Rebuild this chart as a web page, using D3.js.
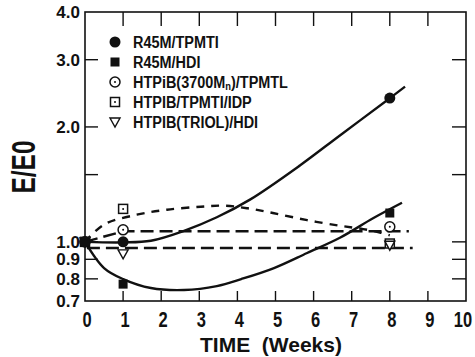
<!DOCTYPE html>
<html>
<head>
<meta charset="utf-8">
<script src="https://cdn.jsdelivr.net/npm/d3@7/dist/d3.min.js"></script>
<style>
  body { margin: 0; background: #fff; }
  svg { display: block; }
  text { font-family: "Liberation Sans", Arial, sans-serif; font-weight: bold; fill: #111; }
</style>
</head>
<body>
<div id="chart"></div>
<script>
// measured points (weeks, E/E0)
const weeks = [0, 1, 8];
const r45mTpmti = [1.0, 1.0, 2.38];
const r45mHdi = [1.0, 0.775, 1.19];
const htpib3700 = [1.0, 1.075, 1.095];
const htpibIdp = [1.0, 1.22, 0.99];
const htpibTriol = [1.0, 0.93, 0.98];

// drawn curves
const curveTpmti = [[0, 1.0], [1, 0.997], [1.73, 1.007], [2.6, 1.069], [3.46, 1.16], [4.33, 1.29],
  [5.64, 1.585], [6.69, 1.9], [8.0, 2.378], [8.4, 2.55]];
const curveHdi = [[0, 1.0], [0.5, 0.854], [1.0, 0.799], [1.73, 0.757], [2.6, 0.748], [3.46, 0.766],
  [4.1, 0.799], [4.96, 0.854], [5.83, 0.935], [6.69, 1.025], [7.56, 1.153], [8.32, 1.266]];
const curveIdp = [[0, 1.0], [0.5, 1.11], [1.36, 1.178], [2.15, 1.214], [3.04, 1.236], [3.65, 1.244],
  [4.25, 1.225], [4.93, 1.19], [5.83, 1.14], [6.69, 1.102], [7.3, 1.08], [7.74, 1.058], [8.0, 1.04]];
const line3700 = [[0, 1.0], [1, 1.066], [8.5, 1.066]];
const lineTriol = [[0.05, 0.964], [8.6, 0.964]];

const xTicks = [0, 1, 2, 3, 4, 5, 6, 7, 8, 9, 10];
const yTicks = [0.7, 0.8, 0.9, 1.0, 1.5, 2.0, 3.0, 4.0];
const yLabels = ['0.7', '0.8', '0.9', '1.0', '', '2.0', '3.0', '4.0'];

const W = 475, H = 357;
const frame = { left: 85, right: 466, top: 12, bottom: 301 };

const svg = d3.select('#chart').append('svg').attr('width', W).attr('height', H);

const x = d3.scaleLinear().domain([0, 10]).range([frame.left, frame.right]);
const y = d3.scaleLog().domain([0.7, 4.0]).range([frame.bottom, frame.top]);

// text squeezed horizontally to imitate the condensed face of the original
function label(g, tx, ty, str, size, anchor, sx, rot) {
  return g.append('text')
    .attr('transform', `translate(${tx},${ty})` + (rot ? ` rotate(${rot})` : '') + ` scale(${sx},1)`)
    .attr('text-anchor', anchor)
    .attr('font-size', size)
    .text(str);
}

// frame
svg.append('rect')
  .attr('x', frame.left).attr('y', frame.top)
  .attr('width', frame.right - frame.left).attr('height', frame.bottom - frame.top)
  .attr('fill', 'none').attr('stroke', '#111').attr('stroke-width', 1.6);

// inward ticks on all four sides
const ticks = svg.append('g').attr('stroke', '#111').attr('stroke-width', 1.4);
xTicks.filter(d => d > 0 && d < 10).forEach(d => {
  ticks.append('line').attr('x1', x(d)).attr('x2', x(d)).attr('y1', frame.top).attr('y2', frame.top + 14);
  ticks.append('line').attr('x1', x(d)).attr('x2', x(d)).attr('y1', frame.bottom).attr('y2', frame.bottom - 10);
});
yTicks.filter(d => d > 0.7 && d < 4.0).forEach(d => {
  ticks.append('line').attr('x1', frame.left).attr('x2', frame.left + 13).attr('y1', y(d)).attr('y2', y(d));
  ticks.append('line').attr('x1', frame.right).attr('x2', frame.right - 14).attr('y1', y(d)).attr('y2', y(d));
});

// tick labels
const yl = svg.append('g');
yTicks.forEach((d, i) => {
  if (yLabels[i]) label(yl, 80, y(d) + 6, yLabels[i], 17, 'end', 1.0);
});
const xl = svg.append('g');
xTicks.forEach(d => {
  label(xl, d === 10 ? x(d) - 3 : x(d) + 2, 327, String(d), 22, 'middle', 0.75);
});

// axis titles
svg.append('text')
  .attr('x', 271).attr('y', 352)
  .attr('text-anchor', 'middle')
  .attr('font-size', 21)
  .style('white-space', 'pre')
  .text('TIME  (Weeks)');

label(svg, 35, 167, 'E/E0', 34, 'middle', 0.72, -90);

// curves
const line = d3.line().x(d => x(d[0])).y(d => y(d[1]));
const smooth = d3.line().x(d => x(d[0])).y(d => y(d[1])).curve(d3.curveCatmullRom.alpha(0.5));

const curves = svg.append('g').attr('fill', 'none').attr('stroke', '#111').attr('stroke-width', 2.4);
curves.append('path').attr('d', smooth(curveTpmti));
curves.append('path').attr('d', smooth(curveHdi));
curves.append('path').attr('d', smooth(curveIdp)).attr('stroke-dasharray', '8,7');
curves.append('path').attr('d', line(line3700)).attr('stroke-dasharray', '13,6');
curves.append('path').attr('d', line(lineTriol)).attr('stroke-dasharray', '13,6');

// markers
function marker(g, kind, cx, cy) {
  if (kind === 'fcircle') {
    g.append('circle').attr('cx', cx).attr('cy', cy).attr('r', 5.5).attr('fill', '#111');
  } else if (kind === 'fsquare') {
    g.append('rect').attr('x', cx - 4.5).attr('y', cy - 4.5).attr('width', 9).attr('height', 9).attr('fill', '#111');
  } else if (kind === 'ocircle') {
    g.append('circle').attr('cx', cx).attr('cy', cy).attr('r', 5).attr('fill', '#fff').attr('stroke', '#111').attr('stroke-width', 1.5);
    g.append('circle').attr('cx', cx).attr('cy', cy).attr('r', 1).attr('fill', '#111');
  } else if (kind === 'osquare') {
    g.append('rect').attr('x', cx - 4.5).attr('y', cy - 4.5).attr('width', 9).attr('height', 9)
      .attr('fill', '#fff').attr('stroke', '#111').attr('stroke-width', 1.5);
    g.append('circle').attr('cx', cx).attr('cy', cy).attr('r', 1).attr('fill', '#111');
  } else if (kind === 'otri') {
    g.append('path').attr('d', `M${cx - 5},${cy - 4}L${cx + 5},${cy - 4}L${cx},${cy + 5}Z`)
      .attr('fill', '#fff').attr('stroke', '#111').attr('stroke-width', 1.4);
  }
}

const series = [
  { name: 'R45M/TPMTI', kind: 'fcircle', values: r45mTpmti },
  { name: 'R45M/HDI', kind: 'fsquare', values: r45mHdi },
  { name: 'HTPiB(3700M', sub: 'n', rest: ')/TPMTL', kind: 'ocircle', values: htpib3700 },
  { name: 'HTPIB/TPMTI/IDP', kind: 'osquare', values: htpibIdp },
  { name: 'HTPIB(TRIOL)/HDI', kind: 'otri', values: htpibTriol }
];

const marks = svg.append('g');
// open symbols first, filled on top
[2, 3, 4, 1, 0].forEach(i => {
  const s = series[i];
  weeks.forEach((w, j) => marker(marks, s.kind, x(w), y(s.values[j])));
});

// legend
const legend = svg.append('g');
series.forEach((s, i) => {
  const cy = 42 + i * 20;
  marker(legend, s.kind, 115, cy);
  const t = label(legend, 133, cy + 6, s.name, 17, 'start', 0.85);
  if (s.sub) {
    t.append('tspan').attr('dy', 2).attr('font-size', 11).text(s.sub);
    t.append('tspan').attr('dy', -2).text(s.rest);
  }
});
</script>
</body>
</html>
